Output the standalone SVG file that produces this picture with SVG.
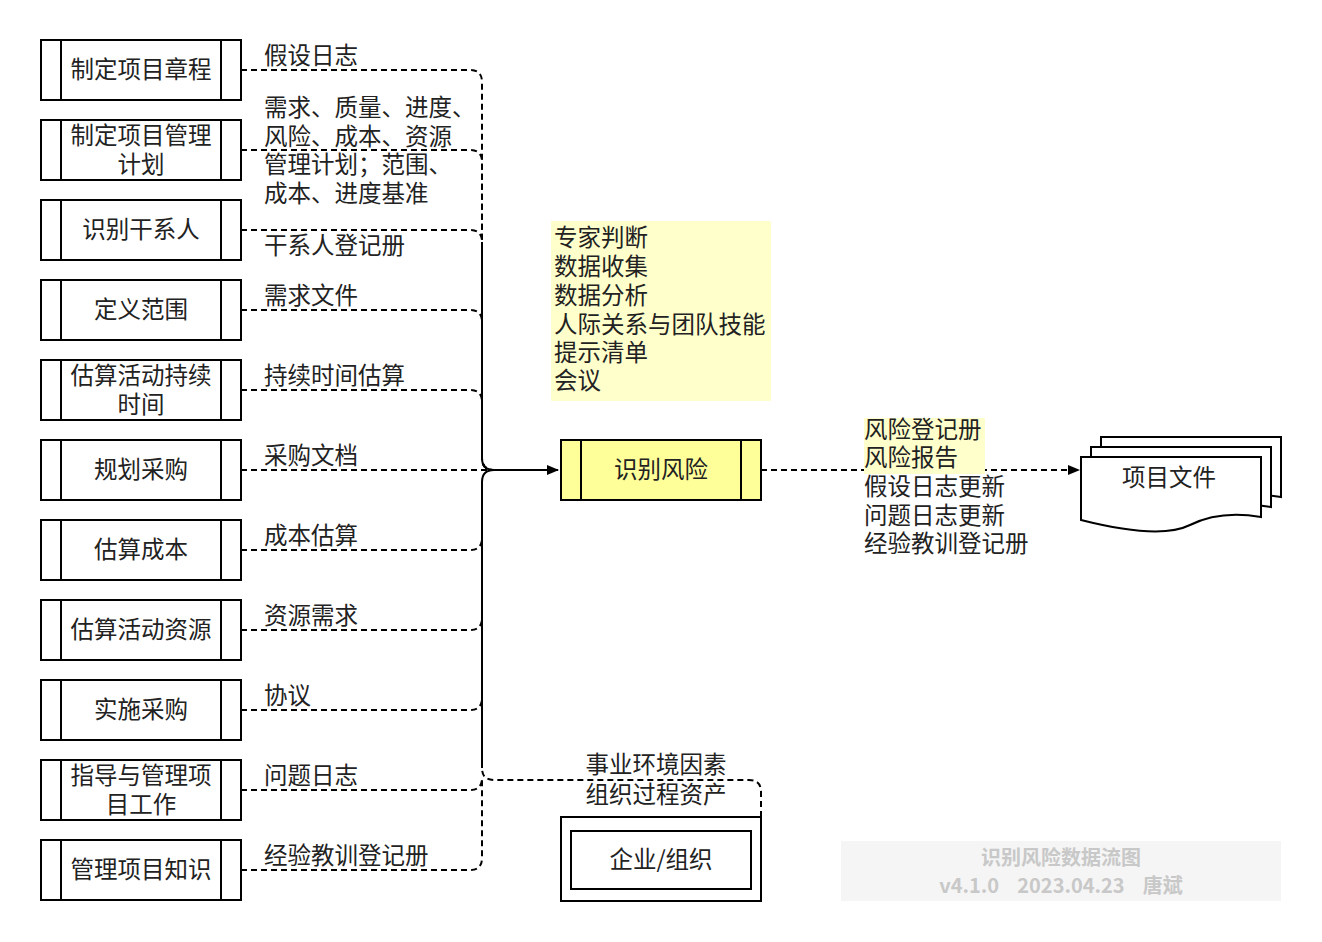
<svg xmlns="http://www.w3.org/2000/svg" width="1322" height="942" viewBox="0 0 1322 942">
<style>
text{font-family:"Noto Sans CJK SC","Liberation Sans",sans-serif;font-size:23.5px;fill:#222}
.b{fill:#fff;stroke:#000;stroke-width:2}
.c{text-anchor:middle}
.d{fill:none;stroke:#000;stroke-width:2;stroke-dasharray:6,4}
.s{fill:none;stroke:#000;stroke-width:2}
</style>
<defs><marker id="a" markerWidth="12" markerHeight="10" refX="11" refY="5" orient="auto" markerUnits="userSpaceOnUse"><path d="M0,0L12,5L0,10Z" fill="#000"/></marker></defs>
<rect width="1322" height="942" fill="#fff"/>
<g id="nodes">
<g id="n1"><rect class="b" x="41" y="40" width="200" height="60"/><path class="s" d="M61,40V100M221,40V100"/><text class="c" x="141" y="78">制定项目章程</text></g>
<g id="n2"><rect class="b" x="41" y="120" width="200" height="60"/><path class="s" d="M61,120V180M221,120V180"/><text class="c" x="141" y="144">制定项目管理</text><text class="c" x="141" y="173">计划</text></g>
<g id="n3"><rect class="b" x="41" y="200" width="200" height="60"/><path class="s" d="M61,200V260M221,200V260"/><text class="c" x="141" y="238">识别干系人</text></g>
<g id="n4"><rect class="b" x="41" y="280" width="200" height="60"/><path class="s" d="M61,280V340M221,280V340"/><text class="c" x="141" y="318">定义范围</text></g>
<g id="n5"><rect class="b" x="41" y="360" width="200" height="60"/><path class="s" d="M61,360V420M221,360V420"/><text class="c" x="141" y="384">估算活动持续</text><text class="c" x="141" y="413">时间</text></g>
<g id="n6"><rect class="b" x="41" y="440" width="200" height="60"/><path class="s" d="M61,440V500M221,440V500"/><text class="c" x="141" y="478">规划采购</text></g>
<g id="n7"><rect class="b" x="41" y="520" width="200" height="60"/><path class="s" d="M61,520V580M221,520V580"/><text class="c" x="141" y="558">估算成本</text></g>
<g id="n8"><rect class="b" x="41" y="600" width="200" height="60"/><path class="s" d="M61,600V660M221,600V660"/><text class="c" x="141" y="638">估算活动资源</text></g>
<g id="n9"><rect class="b" x="41" y="680" width="200" height="60"/><path class="s" d="M61,680V740M221,680V740"/><text class="c" x="141" y="718">实施采购</text></g>
<g id="n10"><rect class="b" x="41" y="760" width="200" height="60"/><path class="s" d="M61,760V820M221,760V820"/><text class="c" x="141" y="784">指导与管理项</text><text class="c" x="141" y="813">目工作</text></g>
<g id="n11"><rect class="b" x="41" y="840" width="200" height="60"/><path class="s" d="M61,840V900M221,840V900"/><text class="c" x="141" y="878">管理项目知识</text></g>
<g id="tools"><rect x="551" y="221" width="220" height="180" fill="#ffffcc"/>
<text x="554" y="246">专家判断</text><text x="554" y="275">数据收集</text><text x="554" y="304">数据分析</text><text x="554" y="333">人际关系与团队技能</text><text x="554" y="361">提示清单</text><text x="554" y="389">会议</text></g>
<g id="center"><rect x="561" y="440" width="200" height="60" fill="#ffff99" stroke="#000" stroke-width="2"/><path class="s" d="M581,440V500M741,440V500"/><text class="c" x="661" y="478">识别风险</text></g>
<g id="org"><rect class="b" x="561" y="817" width="200" height="84"/><rect class="b" x="571" y="831" width="180" height="58"/><text class="c" x="661" y="868">企业/组织</text></g>
<g id="docs">
<path class="b" d="M1101,437H1281V497Q1240,490 1210,505T1101,500Z"/>
<path class="b" d="M1091,447H1271V507Q1230,500 1200,515T1091,510Z"/>
<path class="b" d="M1081,457H1261V517Q1220,510 1190,525T1081,520Z"/>
<text class="c" x="1169" y="486">项目文件</text></g>
<g id="wm"><rect x="841" y="841" width="440" height="60" fill="#f5f5f5"/>
<text class="c" x="1061" y="865" style="fill:#c8c8c8;font-size:20px;font-weight:bold">识别风险数据流图</text>
<text class="c" x="1061" y="893" style="fill:#c8c8c8;font-size:20px;font-weight:bold" xml:space="preserve">v4.1.0    2023.04.23    唐斌</text></g>
</g>
<g id="connectors">
<path class="d" d="M241,70H470Q482,70 482,82V458Q482,470 494,470"/>
<path class="d" d="M241,150H470Q482,150 482,162V458Q482,470 494,470"/>
<path class="d" d="M241,230H470Q482,230 482,242V458Q482,470 494,470"/>
<path class="d" d="M241,310H470Q482,310 482,322V458"/>
<path class="d" d="M241,390H470Q482,390 482,402"/>
<path class="d" d="M241,470H494"/>
<path class="d" d="M241,550H470Q482,550 482,538"/>
<path class="d" d="M241,630H470Q482,630 482,618"/>
<path class="d" d="M241,710H470Q482,710 482,698"/>
<path class="d" d="M241,790H470Q482,790 482,778"/>
<path class="d" d="M241,870H470Q482,870 482,858V780"/>
<path class="d" d="M761,817V792Q761,780 749,780H494Q482,780 482,768"/>
<path class="s" d="M482,242V458Q482,470 494,470M482,768V482Q482,470 494,470H558" marker-end="url(#a)"/>
<path class="d" d="M761,470H1079" marker-end="url(#a)"/>
<g id="labels">
<text x="264" y="64">假设日志</text>
<text x="264" y="116">需求、质量、进度、</text><text x="264" y="145">风险、成本、资源</text><text x="264" y="173">管理计划；范围、</text><text x="264" y="202">成本、进度基准</text>
<text x="264" y="254">干系人登记册</text>
<text x="264" y="304">需求文件</text>
<text x="264" y="384">持续时间估算</text>
<text x="264" y="464">采购文档</text>
<text x="264" y="544">成本估算</text>
<text x="264" y="624">资源需求</text>
<text x="264" y="704">协议</text>
<text x="264" y="784">问题日志</text>
<text x="264" y="864">经验教训登记册</text>
<text class="c" x="656" y="773">事业环境因素</text><text class="c" x="656" y="803">组织过程资产</text>
<rect x="864" y="418" width="121" height="56" fill="#ffffcc"/>
<text x="864" y="438">风险登记册</text><text x="864" y="466">风险报告</text><text x="864" y="495">假设日志更新</text><text x="864" y="524">问题日志更新</text><text x="864" y="552">经验教训登记册</text>
</g>
</g>
</svg>
